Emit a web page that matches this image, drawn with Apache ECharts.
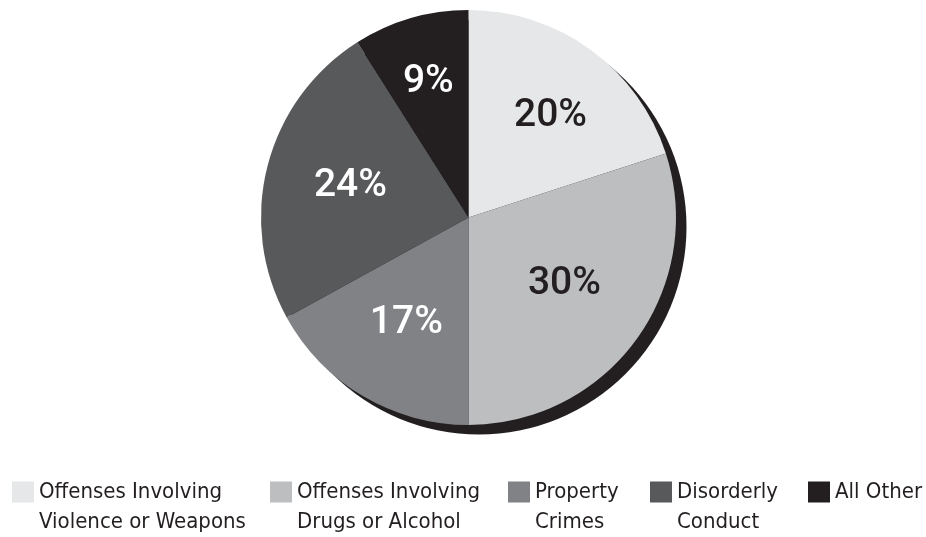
<!DOCTYPE html>
<html>
<head>
<meta charset="utf-8">
<script src="https://cdn.jsdelivr.net/npm/echarts@6/dist/echarts.min.js"></script>
<style>
html,body{margin:0;padding:0;background:#fff;}
#c{width:926px;height:537px;}
</style>
</head>
<body>
<div id="c"></div>
<script>
const categories = [
  'Offenses Involving\nViolence or Weapons',
  'Offenses Involving\nDrugs or Alcohol',
  'Property\nCrimes',
  'Disorderly\nConduct',
  'All Other'
];
const values = [20, 30, 17, 24, 9];
const colors = ['#e6e7e8', '#bcbec0', '#808285', '#58595b', '#231f20'];
const labelColors = ['#231f20', '#231f20', '#ffffff', '#ffffff', '#ffffff'];
const legendWidths = [231, 211, 115, 131, 82];

const chart = echarts.init(document.getElementById('c'), null, {renderer: 'canvas'});

const pieData = categories.map((n, i) => ({name: n, value: values[i], itemStyle: {color: colors[i]}}));
const labelNudge = [[8, 1], [-6, -7], [2, -3], [4, 0], [-5, -14]];
const labelData = categories.map((n, i) => ({
  name: n, value: values[i],
  itemStyle: {color: 'rgba(0,0,0,0)'},
  label: {color: labelColors[i], offset: labelNudge[i]}
}));

chart.setOption({
  animation: false,
  backgroundColor: '#ffffff',
  legend: {
    left: 12,
    top: 477,
    padding: 0,
    orient: 'horizontal',
    itemWidth: 22,
    itemHeight: 51,
    itemGap: 0,
    icon: 'path://M0,0h22v21h-22z M0,50.9h0.01v0.1h-0.01z',
    selectedMode: false,
    textStyle: {
      fontFamily: '"Liberation Sans Narrow", "DejaVu Sans Condensed", sans-serif',
      fontSize: 22,
      lineHeight: 30,
      color: '#231f20'
    },
    data: categories.map((n, i) => ({
      name: n,
      textStyle: {width: legendWidths[i]}
    })),
    formatter: function (name) {
      return name.indexOf('\n') >= 0 ? name : name + '\n ';
    }
  },
  series: [
    {
      type: 'pie',
      name: 'shadow',
      silent: true,
      center: [479, 227],
      radius: [0, 207.5],
      startAngle: 90,
      label: {show: false},
      labelLine: {show: false},
      itemStyle: {color: '#231f20'},
      data: [{name: '_shadow', value: 1}]
    },
    {
      type: 'pie',
      name: 'main',
      silent: true,
      center: [468.5, 217.5],
      radius: [0, 207.5],
      startAngle: 90,
      clockwise: true,
      label: {show: false},
      labelLine: {show: false},
      itemStyle: {borderWidth: 0},
      data: pieData
    },
    {
      type: 'pie',
      name: 'labels',
      silent: true,
      center: [468.5, 217.5],
      radius: [0, 246],
      startAngle: 90,
      clockwise: true,
      legendHoverLink: false,
      label: {
        show: true,
        position: 'inside',
        formatter: '{c}%',
        fontFamily: 'Roboto, "Liberation Sans", sans-serif',
        fontSize: 39,
        fontWeight: 500
      },
      labelLine: {show: false},
      data: labelData
    }
  ]
});
</script>
</body>
</html>
